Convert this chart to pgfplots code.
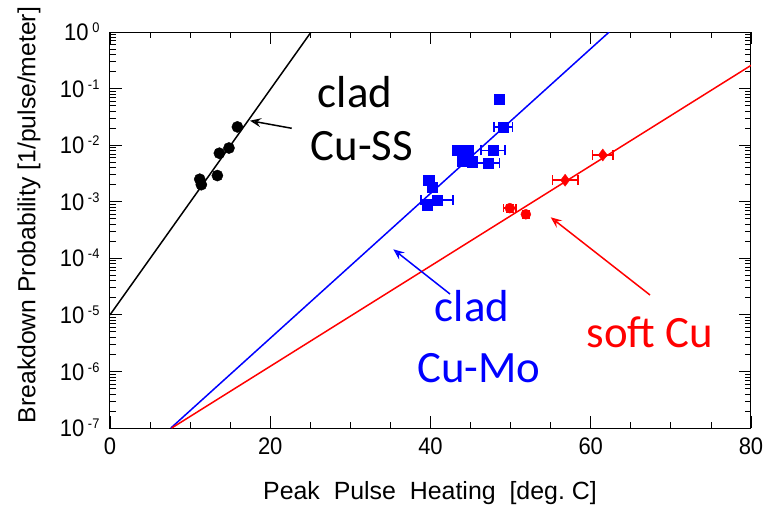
\documentclass[border=0pt]{standalone}
\usepackage{pgfplots}
\pgfplotsset{compat=1.18}
\usepackage{fontspec}
\setmainfont{Liberation Sans}
\newfontfamily\calibri{Carlito}
\usetikzlibrary{arrows.meta}
\definecolor{pblue}{RGB}{0,0,255}
\definecolor{pred}{RGB}{255,0,0}
\newcommand{\tickfont}{\fontsize{24}{28}\selectfont}
\newcommand{\tp}[1]{10\hspace{4bp}\raisebox{8bp}{\fontsize{14}{14}\selectfont #1}}
\begin{document}
\begin{tikzpicture}
\path[use as bounding box] (-110bp,-79bp) rectangle (667bp,428bp);
\begin{axis}[
  at={(0,0)}, anchor=south west,
  scale only axis, width=641bp, height=396bp,
  xmin=0, xmax=80, ymode=log, ymin=1e-7, ymax=1,
  xtick={0,20,40,60,80},
  minor xtick={5,10,15,25,30,35,45,50,55,65,70,75},
  ytick={1e-7,1e-6,1e-5,1e-4,1e-3,1e-2,1e-1,1},
  yticklabels={\tp{-7},\tp{-6},\tp{-5},\tp{-4},\tp{-3},\tp{-2},\tp{-1},\tp{0}},
  tick align=inside,
  major tick length=12bp, minor tick length=6bp,
  tick style={black, line width=0.8bp},
  axis line style={line width=1bp},
  every tick label/.append style={font=\tickfont},
  yticklabel style={font=\tickfont, xscale=0.92, xshift=-8bp},
  xticklabel style={font=\tickfont, xscale=0.92, yshift=-6bp},
  /pgf/number format/assume math mode=true,
  clip=true,
]
% fit lines
\addplot[black, line width=1.5bp, no marks] coordinates {(0,1e-5) (25.1,1)};
\addplot[pblue, line width=1.5bp, no marks] coordinates {(7.6,1e-7) (62.3,1)};
\addplot[pred, line width=1.5bp, no marks] coordinates {(7.7,1e-7) (80,0.257)};
% clad Cu-SS
\addplot[only marks, mark=*, mark size=5.6bp, black] coordinates {
 (11.2,0.0025) (11.4,0.0020) (13.4,0.0029) (13.65,0.0072) (14.85,0.0089) (15.9,0.021)};
% clad Cu-Mo
\addplot[only marks, mark=square*, mark size=5.2bp, pblue] coordinates {
 (48.6,0.065) (43.4,0.0081) (44.7,0.0081) (44.1,0.0062) (45.2,0.0051) (44.0,0.0053)
 (39.8,0.0024) (40.2,0.0018) (39.6,0.00087)};
\addplot[only marks, mark=square*, mark size=5.2bp, pblue,
  error bars/.cd, x dir=both, x explicit,
  error bar style={line width=1.5bp},
  error mark options={line width=1.5bp, mark size=5bp, rotate=90}] coordinates {
 (49.1,0.021) +- (1.15,0)
 (47.8,0.0081) +- (1.5,0)
 (47.2,0.0048) +- (1.4,0)
 (40.8,0.00107) +- (2.0,0)};
% soft Cu
\addplot[only marks, mark=diamond*, mark size=6bp, pred,
  error bars/.cd, x dir=both, x explicit,
  error bar style={line width=1.5bp},
  error mark options={line width=1.5bp, mark size=5bp, rotate=90}] coordinates {
 (56.8,0.0024) +- (1.6,0)
 (61.5,0.0067) +- (1.3,0)};
\addplot[only marks, mark=*, mark size=5bp, pred,
  error bars/.cd, x dir=both, y dir=both, x explicit, y explicit,
  error bar style={line width=1.5bp},
  error mark options={line width=1.5bp, mark size=4bp, rotate=90}] coordinates {
 (49.9,0.00077) +- (0.8,0.00012)
 (51.9,0.00060) +- (0.4,0.0001)};
\end{axis}
% axis labels
\node[rotate=90, font=\fontsize{24.8}{28}\selectfont] at (-81bp,213bp) {Breakdown Probability [1/pulse/meter]};
\node[anchor=base, font=\fontsize{25}{30}\selectfont] at (320bp,-71bp) {Peak\ \ Pulse\ \ Heating\ \ [deg.\ C]};
% annotations
\begin{scope}[font=\calibri\fontsize{45}{54}\selectfont]
\node[anchor=base, black] at (245bp,320bp) {clad};
\node[anchor=base, black] at (252bp,267bp) {Cu-SS};
\node[anchor=base, pblue] at (362bp,106bp) {clad};
\node[anchor=base, pblue] at (369bp,45bp) {Cu-Mo};
\node[anchor=base, pred] at (540bp,80bp) {soft Cu};
\end{scope}
\draw[black, line width=1.5bp, -{Stealth[open, length=11bp, width=9bp, inset=4bp]}] (181.7bp,299.7bp) -- (140bp,307.3bp);
\draw[pblue, line width=1.5bp, -{Stealth[open, length=11bp, width=9bp, inset=4bp]}] (340bp,134bp) -- (283.3bp,178.7bp);
\draw[pred, line width=1.5bp, -{Stealth[open, length=11bp, width=9bp, inset=4bp]}] (540bp,133bp) -- (440.7bp,210.7bp);
\end{tikzpicture}
\end{document}
